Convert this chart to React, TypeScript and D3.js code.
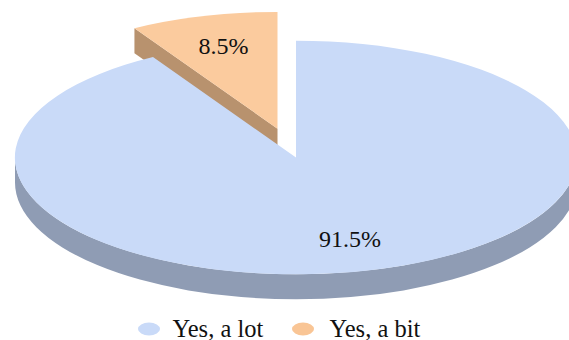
import React from "react";
import * as d3 from "d3";

// Survey shares, in percent
const categories = ["Yes, a bit", "Yes, a lot"];
const values = [8.5, 91.5];
const labels = ["8.5%", "91.5%"];
const topColors = ["#fbcb9e", "#c9daf8"];
const sideColors = ["#b8926e", "#8f9cb4"];

const WIDTH = 569;
const HEIGHT = 340;
const FONT = "'Liberation Serif', serif";

const RX = 281;
const RY = 116.8;
const DEPTH = 25;
const CENTER = { x: 296, y: 157.5 };
const EXPLODE = { x: -18.5, y: -28.8 };

export default function App() {
  // Slices start at twelve o'clock and run counter-clockwise for the small one
  const pie = d3
    .pie<number>()
    .sort(null)
    .startAngle(-(values[0] / 100) * 2 * Math.PI)
    .endAngle(2 * Math.PI - (values[0] / 100) * 2 * Math.PI);
  const slices = pie(values);
  const unitArc = d3.arc<d3.PieArcDatum<number>>().innerRadius(0).outerRadius(1);

  const small = slices[0];
  const cornerX = Math.sin(small.startAngle) * RX;
  const cornerY = -Math.cos(small.startAngle) * RY;

  return (
    <svg
      width={WIDTH}
      height={HEIGHT}
      viewBox={`0 0 ${WIDTH} ${HEIGHT}`}
      style={{ position: "absolute", left: 0, top: 0, background: "#fff" }}
    >
      {/* Pulled-out slice: cut face, then top */}
      <g transform={`translate(${CENTER.x + EXPLODE.x},${CENTER.y + EXPLODE.y})`}>
        <path
          d={`M0,0L${cornerX},${cornerY}L${cornerX},${cornerY + DEPTH}L0,${DEPTH}Z`}
          fill={sideColors[0]}
        />
        <path
          d={unitArc(small) ?? ""}
          transform={`scale(${RX},${RY})`}
          fill={topColors[0]}
        />
      </g>

      {/* Main slice: rim below the front half, then top */}
      <g transform={`translate(${CENTER.x},${CENTER.y})`}>
        <path
          d={`M${-RX},0A${RX},${RY} 0 0 0 ${RX},0L${RX},${DEPTH}A${RX},${RY} 0 0 1 ${-RX},${DEPTH}Z`}
          fill={sideColors[1]}
        />
        <path
          d={unitArc(slices[1]) ?? ""}
          transform={`scale(${RX},${RY})`}
          fill={topColors[1]}
        />
      </g>

      <g fontFamily={FONT} fontSize={24} fill="#111" textAnchor="middle">
        <text x={223.5} y={54}>{labels[0]}</text>
        <text x={350} y={247}>{labels[1]}</text>
      </g>

      {/* Legend */}
      <g fontFamily={FONT} fontSize={24.5} fill="#111">
        <ellipse cx={149} cy={329} rx={11} ry={6.5} fill={topColors[1]} />
        <text x={172.5} y={336.5}>{categories[1]}</text>
        <ellipse cx={303} cy={329} rx={11} ry={6.5} fill="#f9c595" />
        <text x={329.5} y={336.5}>{categories[0]}</text>
      </g>
    </svg>
  );
}
